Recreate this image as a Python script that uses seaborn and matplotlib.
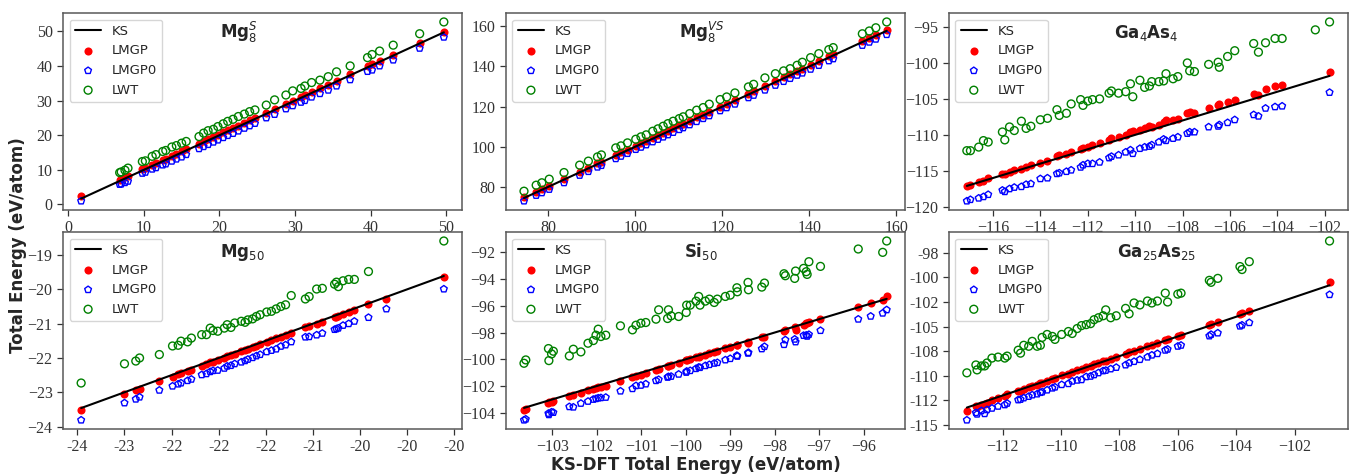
import numpy as np
import pandas as pd
import seaborn as sns
import matplotlib.pyplot as plt

# ---- values (eV/atom) ----
# Mg8 S
mg8s_ks = [1.7, 6.8, 7.0, 7.5, 7.9, 9.8, 10.2, 11.1, 11.6, 12.5, 12.9, 13.7, 14.3, 15.0, 15.6,
           17.3, 17.9, 18.5, 19.2, 19.8, 20.5, 21.1, 21.8, 22.5, 23.3, 24.0, 24.7, 26.2, 27.3,
           28.8, 29.7, 30.8, 31.3, 32.2, 33.3, 34.4, 35.5, 37.3, 39.6, 40.2, 41.2, 43.0, 46.5, 49.7]
mg8s_lmgp = [2.4, 7.2, 7.4, 7.9, 8.2, 10.2, 10.6, 11.5, 12.0, 12.9, 13.2, 14.0, 14.6, 15.3, 15.9,
             17.6, 18.2, 18.8, 19.5, 20.1, 20.8, 21.4, 22.1, 22.8, 23.6, 24.3, 24.9, 26.4, 27.5,
             29.1, 30.0, 31.0, 31.6, 32.4, 33.5, 34.6, 35.7, 37.6, 39.9, 40.5, 41.5, 43.2, 46.7, 49.9]
mg8s_lmgp0 = [1.0, 5.8, 5.9, 6.3, 6.7, 9.0, 9.3, 10.2, 10.6, 11.4, 11.7, 12.5, 13.1, 13.7, 14.4,
              16.1, 16.7, 17.3, 18.0, 18.6, 19.3, 19.9, 20.5, 21.2, 22.0, 22.7, 23.4, 25.0, 26.0,
              27.6, 28.5, 29.5, 30.0, 31.0, 32.0, 33.0, 34.2, 36.0, 38.4, 38.8, 40.0, 41.7, 45.1, 48.3]
mg8s_lwt = [np.nan, 9.2, 9.4, 9.9, 10.5, 12.4, 12.6, 13.9, 14.4, 15.3, 15.6, 16.6, 17.0, 17.7, 18.2,
            19.6, 20.6, 21.3, 21.7, 22.5, 23.3, 24.0, 24.6, 25.4, 26.1, 26.8, 27.3, 28.7, 30.2,
            31.6, 32.8, 33.5, 34.2, 35.2, 35.9, 36.9, 38.3, 40.0, 42.4, 43.3, 44.3, 46.0, 49.3, 52.7]

# Mg8 VS
mg8vs_ks = [74.4, 77.2, 78.5, 80.2, 83.6, 87.2, 89.2, 91.3, 92.2, 95.5, 96.7, 98.2, 100.1, 101.3,
            102.5, 104.0, 105.2, 106.4, 107.5, 108.7, 110.1, 111.0, 112.5, 114.1, 115.6, 117.0,
            119.5, 121.0, 122.9, 126.0, 127.2, 129.8, 132.2, 134.1, 135.6, 137.2, 138.4, 140.3,
            142.2, 144.5, 145.5, 152.2, 153.8, 155.3, 157.8]
mg8vs_lmgp = [74.7, 77.5, 78.8, 80.5, 84.0, 87.6, 89.5, 91.8, 92.6, 95.8, 97.1, 98.5, 100.5, 101.7,
              102.9, 104.4, 105.6, 106.9, 107.9, 109.1, 110.6, 111.4, 112.9, 114.6, 116.0, 117.5,
              119.9, 121.5, 123.3, 126.5, 127.7, 130.2, 132.6, 134.6, 136.0, 137.7, 138.9, 140.7,
              142.6, 145.0, 146.0, 152.6, 154.2, 155.7, 158.1]
mg8vs_lmgp0 = [72.9, 75.7, 77.0, 78.7, 82.0, 85.7, 87.6, 89.8, 90.6, 94.0, 95.2, 96.6, 98.6, 99.7,
               100.9, 102.4, 103.6, 104.8, 105.9, 107.1, 108.5, 109.4, 110.9, 112.5, 114.0, 115.4,
               117.9, 119.4, 121.2, 124.4, 125.6, 128.2, 130.6, 132.5, 134.0, 135.6, 136.7, 138.6,
               140.5, 142.8, 143.8, 150.5, 152.1, 153.6, 155.9]
mg8vs_lwt = [77.8, 80.8, 82.0, 83.8, 87.1, 90.8, 92.8, 94.9, 95.9, 99.4, 100.4, 101.9, 103.7, 104.9,
             105.9, 107.7, 108.9, 110.2, 111.5, 112.7, 114.0, 114.9, 116.5, 118.2, 119.5, 121.2,
             123.5, 124.8, 126.8, 129.8, 131.1, 134.3, 136.4, 137.8, 138.9, 140.6, 142.1, 144.4,
             146.4, 148.4, 149.4, 156.3, 157.7, 159.3, 162.2]

# Ga4As4
ga4_ks = [-117.1, -116.95, -116.6, -116.4, -116.2, -115.6, -115.5, -115.3, -115.1, -114.8,
          -114.6, -114.4, -114.0, -113.7, -113.3, -113.2, -112.9, -112.7, -112.3, -112.2,
          -112.0, -111.8, -111.5, -111.1, -111.0, -110.7, -110.4, -110.2, -110.1, -109.8,
          -109.6, -109.4, -109.3, -109.0, -108.8, -108.7, -108.4, -108.2, -107.8, -107.7,
          -107.5, -106.9, -106.5, -106.45, -106.1, -105.8, -105.0, -104.8, -104.5, -104.1,
          -103.8, -102.4, -101.8]
ga4_lmgp = [-117.1, -117.0, -116.6, -116.4, -116.0, -115.4, -115.5, -115.2, -114.9, -114.7,
            -114.5, -114.2, -113.9, -113.6, -113.0, -112.8, -112.6, -112.4, -112.0, -111.8,
            -111.7, -111.4, -111.1, -110.7, -110.4, -110.3, -110.0, -109.6, -109.5, -109.3,
            -109.0, -108.8, -108.9, -108.6, -108.2, -108.0, -107.9, -107.8, -107.0, -106.8,
            -106.9, -106.2, -105.9, -105.7, -105.4, -105.2, -104.3, -104.4, -103.6, -103.2,
            -103.1, np.nan, -101.2]
ga4_lmgp0 = [-119.2, -119.0, -118.8, -118.6, -118.3, -117.7, -117.9, -117.5, -117.3, -117.2,
             -116.9, -116.8, -116.1, -116.0, -115.4, -115.3, -115.1, -114.9, -114.5, -114.2,
             -114.0, -114.0, -113.8, -113.2, -113.0, -112.8, -112.4, -112.1, -112.6, -111.9,
             -111.7, -111.6, -111.4, -111.0, -110.6, -110.8, -110.5, -110.3, -109.8, -109.6,
             -109.6, -108.9, -108.8, -108.6, -108.3, -107.9, -107.2, -107.4, -106.3, -106.1,
             -106.0, np.nan, -104.1]
ga4_lwt = [-112.2, -112.2, -111.7, -110.8, -111.0, -109.6, -110.7, -108.9, -109.4, -108.1,
           -109.1, -108.8, -107.9, -107.7, -106.5, -107.3, -107.0, -105.7, -105.1, -105.9,
           -105.3, -105.1, -105.0, -104.2, -103.9, -104.2, -104.0, -102.9, -104.7, -102.4,
           -103.4, -103.2, -102.6, -102.6, -102.5, -101.5, -102.2, -101.9, -100.0, -101.1,
           -101.2, -100.2, -99.9, -100.6, -99.1, -98.3, -97.3, -98.5, -97.2, -96.6,
           -96.6, -95.4, -94.3]

# Mg50
mg50_ks = [-23.46, -23.00, -22.88, -22.84, -22.63, -22.49, -22.43, -22.40, -22.33, -22.29,
           -22.18, -22.13, -22.09, -22.06, -22.01, -21.94, -21.91, -21.87, -21.83, -21.76,
           -21.72, -21.69, -21.64, -21.60, -21.56, -21.49, -21.44, -21.39, -21.34, -21.29,
           -21.23, -21.08, -21.04, -20.96, -20.90, -20.77, -20.75, -20.73, -20.68, -20.62,
           -20.56, -20.41, -20.22, -19.61]
mg50_lmgp = [-23.53, -23.04, -22.93, -22.90, -22.66, -22.55, -22.47, -22.45, -22.38, -22.34,
             -22.24, -22.17, -22.13, -22.12, -22.05, -21.99, -21.95, -21.92, -21.87, -21.81,
             -21.77, -21.74, -21.69, -21.64, -21.60, -21.53, -21.49, -21.43, -21.38, -21.33,
             -21.27, -21.11, -21.08, -21.00, -20.94, -20.82, -20.80, -20.77, -20.71, -20.66,
             -20.60, -20.43, -20.28, -19.63]
mg50_lmgp0 = [-23.81, -23.31, -23.20, -23.14, -22.94, -22.82, -22.76, -22.73, -22.66, -22.62,
              -22.49, -22.46, -22.40, -22.37, -22.36, -22.30, -22.24, -22.22, -22.17, -22.12,
              -22.08, -22.04, -21.99, -21.94, -21.90, -21.82, -21.78, -21.74, -21.66, -21.62,
              -21.53, -21.39, -21.38, -21.33, -21.28, -21.17, -21.15, -21.13, -21.05, -21.00,
              -20.93, -20.82, -20.57, -19.99]
mg50_lwt = [-22.73, -22.17, -22.09, -22.00, -21.90, -21.65, -21.63, -21.51, -21.53, -21.42,
            -21.32, -21.32, -21.13, -21.20, -21.22, -21.13, -21.03, -21.11, -20.98, -20.93,
            -20.96, -20.89, -20.86, -20.79, -20.74, -20.66, -20.64, -20.57, -20.50, -20.45,
            -20.18, -20.28, -20.21, -19.99, -19.97, -19.85, -19.79, -19.92, -19.75, -19.71,
            -19.71, -19.48, np.nan, -18.59]

# Si50
si50_ks = [-103.64, -103.60, -103.09, -103.08, -103.02, -102.98, -102.62, -102.53, -102.36, -102.20,
           -102.08, -102.02, -101.97, -101.91, -101.80, -101.47, -101.20, -101.12, -101.01, -100.90,
           -100.67, -100.61, -100.41, -100.39, -100.33, -100.16, -99.99, -99.98, -99.90, -99.77,
           -99.71, -99.68, -99.56, -99.47, -99.36, -99.29, -99.11, -99.00, -98.85, -98.84,
           -98.60, -98.59, -98.29, -98.23, -97.79, -97.76, -97.55, -97.53, -97.35, -97.29,
           -97.27, -97.23, -96.97, -96.12, -95.84, -95.57, -95.48]
si50_lmgp = [-103.82, -103.75, -103.30, -103.22, -103.18, -103.15, -102.78, -102.70, -102.50, -102.32,
             -102.22, -102.15, -102.10, -102.05, -102.00, -101.60, -101.30, -101.22, -101.15, -101.02,
             -100.78, -100.72, -100.50, -100.48, -100.42, -100.25, -100.08, -100.05, -99.98, -99.85,
             -99.80, -99.75, -99.65, -99.55, -99.42, -99.38, -99.18, -99.08, -98.90, -98.92,
             -98.68, -98.75, -98.32, -98.30, -97.85, -97.80, -97.58, -97.78, -97.40, -97.30,
             -97.25, -97.18, -96.95, -96.08, -95.82, -95.55, -95.30]
si50_lmgp0 = [-104.55, -104.48, -104.05, -104.15, -103.95, -103.98, -103.55, -103.58, -103.30, -103.15,
              -103.00, -102.95, -102.90, -102.88, -102.85, -102.38, -102.20, -101.98, -101.95, -101.85,
              -101.60, -101.52, -101.35, -101.30, -101.28, -101.12, -100.98, -100.90, -100.85, -100.70,
              -100.60, -100.62, -100.48, -100.40, -100.30, -100.25, -100.05, -99.95, -99.72, -99.78,
              -99.55, -99.50, -99.22, -99.05, -98.90, -98.55, -98.50, -98.70, -98.22, -98.20,
              -98.28, -98.15, -97.85, -97.00, -96.78, -96.55, -96.30]
si50_lwt = [-100.30, -100.05, -99.20, -100.10, -99.60, -99.40, -99.75, -99.25, -99.45, -98.80,
            -98.60, -98.20, -97.75, -98.30, -98.20, -97.50, -97.80, -97.45, -97.30, -97.25,
            -97.00, -96.30, -96.95, -96.30, -96.75, -96.80, -96.50, -95.95, -95.95, -95.65,
            -95.30, -95.95, -95.65, -95.50, -95.75, -95.50, -95.30, -95.20, -94.65, -94.95,
            -94.25, -94.80, -94.60, -94.30, -93.60, -93.75, -93.95, -93.40, -93.20, -93.45,
            -93.65, -92.70, -93.05, -91.75, np.nan, -92.00, -91.15]

# Ga25As25
ga25_ks = [-113.23, -112.92, -112.88, -112.73, -112.62, -112.54, -112.37, -112.16, -111.93, -111.85,
           -111.47, -111.39, -111.28, -111.11, -110.99, -110.82, -110.71, -110.65, -110.48, -110.30,
           -110.21, -109.98, -109.75, -109.62, -109.45, -109.30, -109.14, -108.99, -108.87, -108.72,
           -108.56, -108.47, -108.30, -108.11, -107.79, -107.67, -107.50, -107.30, -107.04, -106.89,
           -106.70, -106.43, -106.35, -106.00, -105.89, -104.92, -104.86, -104.63, -103.87, -103.80,
           -103.55, -100.80]
ga25_lmgp = [-113.60, -113.05, -113.20, -112.95, -112.90, -112.75, -112.50, -112.30, -112.05, -111.90,
             -111.55, -111.50, -111.35, -111.15, -111.00, -110.90, -110.75, -110.70, -110.50, -110.35,
             -110.20, -109.95, -109.80, -109.65, -109.40, -109.30, -109.10, -109.00, -108.85, -108.70,
             -108.50, -108.45, -108.30, -108.05, -107.75, -107.60, -107.45, -107.25, -107.00, -106.85,
             -106.65, -106.35, -106.30, -105.95, -105.85, -104.80, -104.75, -104.55, -103.75, -103.65,
             -103.45, -100.50]
ga25_lmgp0 = [-114.50, -113.75, -113.90, -113.55, -113.85, -113.45, -113.30, -113.10, -112.95, -112.80,
              -112.45, -112.40, -112.25, -112.10, -111.95, -111.85, -111.70, -111.65, -111.45, -111.25,
              -111.15, -110.90, -110.80, -110.55, -110.45, -110.40, -110.10, -110.05, -109.90, -109.70,
              -109.50, -109.45, -109.30, -109.15, -108.90, -108.70, -108.55, -108.35, -108.10, -107.90,
              -107.75, -107.40, -107.30, -107.00, -106.90, -105.95, -105.80, -105.65, -104.95, -104.85,
              -104.60, -101.75]
ga25_lwt = [-109.70, -108.90, -109.40, -109.00, -109.00, -108.70, -108.20, -108.10, -108.20, -108.00,
            -107.40, -107.70, -106.90, -107.00, -106.50, -107.00, -106.90, -106.10, -105.80, -106.00,
            -106.30, -105.80, -105.50, -105.70, -105.20, -104.90, -104.80, -104.70, -104.30, -104.10,
            -103.90, -103.30, -104.10, -103.90, -103.15, -103.70, -102.60, -102.80, -102.40, -102.60,
            -102.40, -101.60, -102.50, -101.70, -101.60, -100.30, -100.50, -100.10, -98.90, -99.20,
            -98.40, -96.30]

# ticks
mg8s_xticks, mg8s_yticks = [0, 10, 20, 30, 40, 50], [0, 10, 20, 30, 40, 50]
mg8vs_xticks, mg8vs_yticks = [80, 100, 120, 140, 160], [80, 100, 120, 140, 160]
ga4_xticks = [-116, -114, -112, -110, -108, -106, -104, -102]
ga4_yticks = [-95, -100, -105, -110, -115, -120]
mg50_xticks = [-23.5, -23.0, -22.5, -22.0, -21.5, -21.0, -20.5, -20.0, -19.5]
mg50_xticklabels = ["-24", "-23", "-22", "-22", "-22", "-21", "-20", "-20", "-20"]
mg50_yticks = [-19, -20, -21, -22, -23, -24]
si50_xticks = [-103, -102, -101, -100, -99, -98, -97, -96]
si50_yticks = [-92, -94, -96, -98, -100, -102, -104]
ga25_xticks = [-112, -110, -108, -106, -104, -102]
ga25_yticks = [-97.5, -100, -102.5, -105, -107.5, -110, -112.5, -115]
ga25_yticklabels = ["-98", "-100", "-102", "-105", "-108", "-110", "-112", "-115"]

titles = ["Mg$_8^S$", "Mg$_8^{VS}$", "Ga$_4$As$_4$", "Mg$_{50}$", "Si$_{50}$", "Ga$_{25}$As$_{25}$"]

panels = [
    (mg8s_ks, mg8s_lmgp, mg8s_lmgp0, mg8s_lwt, mg8s_xticks, None, mg8s_yticks, None),
    (mg8vs_ks, mg8vs_lmgp, mg8vs_lmgp0, mg8vs_lwt, mg8vs_xticks, None, mg8vs_yticks, None),
    (ga4_ks, ga4_lmgp, ga4_lmgp0, ga4_lwt, ga4_xticks, None, ga4_yticks, None),
    (mg50_ks, mg50_lmgp, mg50_lmgp0, mg50_lwt, mg50_xticks, mg50_xticklabels, mg50_yticks, None),
    (si50_ks, si50_lmgp, si50_lmgp0, si50_lwt, si50_xticks, None, si50_yticks, None),
    (ga25_ks, ga25_lmgp, ga25_lmgp0, ga25_lwt, ga25_xticks, None, ga25_yticks, ga25_yticklabels),
]
title_x = [0.44, 0.49, 0.495, 0.45, 0.49, 0.52]

sns.set_style("ticks")
plt.rcParams["font.family"] = ["DejaVu Sans"]
serif = "Liberation Serif"

fig, axes = plt.subplots(2, 3, figsize=(13.55, 4.76), dpi=100)
plt.subplots_adjust(left=0.0465, right=0.9946, top=0.9727, bottom=0.0987, wspace=0.11, hspace=0.112)

for ax, p, title, tx in zip(axes.flat, panels, titles, title_x):
    ks, lmgp, lmgp0, lwt, xt, xtl, yt, ytl = p
    df = pd.DataFrame({"ks": ks, "line": ks, "LMGP": lmgp, "LMGP0": lmgp0, "LWT": lwt})

    sns.lineplot(data=df, x="ks", y="line", color="black", lw=1.5, label="KS", ax=ax, zorder=3)
    sns.scatterplot(data=df, x="ks", y="LMGP", color="red", marker="o", s=34, linewidth=0,
                    label="LMGP", ax=ax)
    sns.scatterplot(data=df, x="ks", y="LMGP0", marker="p", facecolor="none", edgecolor="blue",
                    s=26, linewidth=1.0, label="LMGP0", ax=ax)
    sns.scatterplot(data=df, x="ks", y="LWT", marker="o", facecolor="none", edgecolor="green",
                    s=32, linewidth=1.0, label="LWT", ax=ax)

    ax.set_xticks(xt)
    ax.set_yticks(yt)
    if xtl is not None:
        ax.set_xticklabels(xtl)
    if ytl is not None:
        ax.set_yticklabels(ytl)
    ax.set_xlabel("")
    ax.set_ylabel("")
    ax.tick_params(labelsize=11.5, colors="0.2", length=4, width=0.9, labelfontfamily=serif)
    for lab in ax.get_xticklabels() + ax.get_yticklabels():
        lab.set_fontfamily(serif)
    for s in ax.spines.values():
        s.set_color("0.35")
        s.set_linewidth(1.1)

    ax.text(tx, 0.875, title, transform=ax.transAxes, ha="center", va="baseline",
            fontsize=12, fontweight="bold", color="0.15")
    ax.legend(loc="upper left", fontsize=9.5)

fig.text(18.5 / 1355, 0.485, "Total Energy (eV/atom)", rotation=90, ha="center", va="center",
         fontsize=12, fontweight="bold", color="0.15")
fig.text(696 / 1355, 1 - 465 / 476, "KS-DFT Total Energy (eV/atom)", ha="center", va="center",
         fontsize=12, fontweight="bold", color="0.15")

plt.savefig("out.png", dpi=100)
plt.close()
